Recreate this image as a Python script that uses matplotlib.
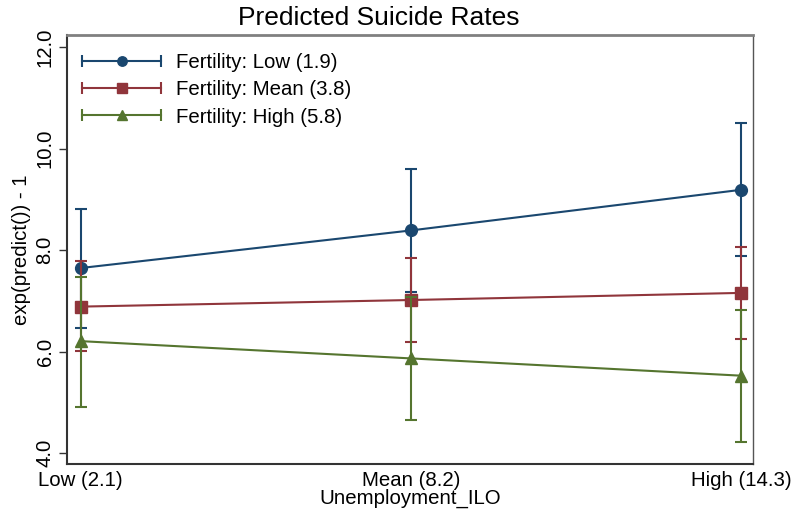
import matplotlib
matplotlib.use("Agg")
import matplotlib.pyplot as plt
from matplotlib.lines import Line2D
from matplotlib.legend_handler import HandlerBase

plt.rcParams['font.family'] = ['Liberation Sans', 'DejaVu Sans']

# data
x_labels = ['Low (2.1)', 'Mean (8.2)', 'High (14.3)']
series_names = ['Fertility: Low (1.9)', 'Fertility: Mean (3.8)', 'Fertility: High (5.8)']

low_fert = [7.65, 8.39, 9.19]
low_fert_lo = [6.46, 7.17, 7.88]
low_fert_hi = [8.81, 9.60, 10.51]

mean_fert = [6.89, 7.02, 7.16]
mean_fert_lo = [6.01, 6.19, 6.26]
mean_fert_hi = [7.79, 7.85, 8.06]

high_fert = [6.21, 5.87, 5.53]
high_fert_lo = [4.91, 4.66, 4.22]
high_fert_hi = [7.48, 7.08, 6.83]

colors = ['#1a476f', '#90353b', '#55752f']
markers = ['o', 's', '^']
msizes = [8.5, 8.5, 8.5]


class CapLineHandler(HandlerBase):
    # horizontal line with caps on both ends and marker in middle (stata style)
    def create_artists(self, legend, orig, xdescent, ydescent, width, height, fontsize, trans):
        y = height / 2 - ydescent
        x0 = -xdescent
        x1 = width - xdescent
        c = orig.get_color()
        ln = Line2D([x0, x1], [y, y], color=c, lw=1.5, marker='|', markersize=9, markeredgewidth=1.5)
        mk = Line2D([(x0 + x1) / 2], [y], color=c, lw=0, marker=orig.get_marker(), markersize=orig.get_markersize())
        ln.set_transform(trans)
        mk.set_transform(trans)
        return [ln, mk]


fig = plt.figure(figsize=(7.95, 5.13), dpi=100)
ax = fig.add_axes([0.0843, 0.0955, 0.8625, 0.8363])

xs = [0, 1, 2]
all_y = [low_fert, mean_fert, high_fert]
all_lo = [low_fert_lo, mean_fert_lo, high_fert_lo]
all_hi = [low_fert_hi, mean_fert_hi, high_fert_hi]

handles = []
for i in range(3):
    y = all_y[i]
    err = [[y[k] - all_lo[i][k] for k in range(3)], [all_hi[i][k] - y[k] for k in range(3)]]
    ax.errorbar(xs, y, yerr=err, fmt='none', ecolor=colors[i], elinewidth=1.5, capsize=4.5, capthick=1.5, zorder=2 + i)
    ax.plot(xs, y, color=colors[i], lw=1.5, marker=markers[i], markersize=msizes[i], zorder=2 + i)
    handles.append(Line2D([], [], color=colors[i], marker=markers[i], markersize=msizes[i] * 0.8))

ax.set_xlim(-0.0415, 2.036)
ax.set_ylim(3.79, 12.24)
ax.set_xticks(xs)
ax.set_xticklabels(x_labels, fontsize=14.7)
ax.set_yticks([4, 6, 8, 10, 12])
ax.set_yticklabels(['4.0', '6.0', '8.0', '10.0', '12.0'], rotation=90, va='center', fontsize=14.7)
ax.tick_params(axis='x', length=0, pad=5)
ax.tick_params(axis='y', length=6, width=1, color='#333333', pad=3)

for s in ['left', 'bottom']:
    ax.spines[s].set_color('#333333')
    ax.spines[s].set_linewidth(1.5)
ax.spines['top'].set_color('#808080')
ax.spines['top'].set_linewidth(2)
ax.spines['right'].set_color('#555555')
ax.spines['right'].set_linewidth(1)

ax.set_xlabel('Unemployment_ILO', fontsize=14.7, labelpad=-1)
ax.set_ylabel('exp(predict()) - 1', fontsize=14.7, labelpad=3)

fig.text(0.476, 0.965, 'Predicted Suicide Rates', ha='center', va='center', fontsize=19)

ax.legend(handles, series_names, handler_map={Line2D: CapLineHandler()}, loc='upper left',
          bbox_to_anchor=(0.0, 0.993), frameon=False, fontsize=14.7, handlelength=3.87,
          handletextpad=0.73, labelspacing=0.4, borderaxespad=0.35)

fig.savefig('out.png', dpi=100)
